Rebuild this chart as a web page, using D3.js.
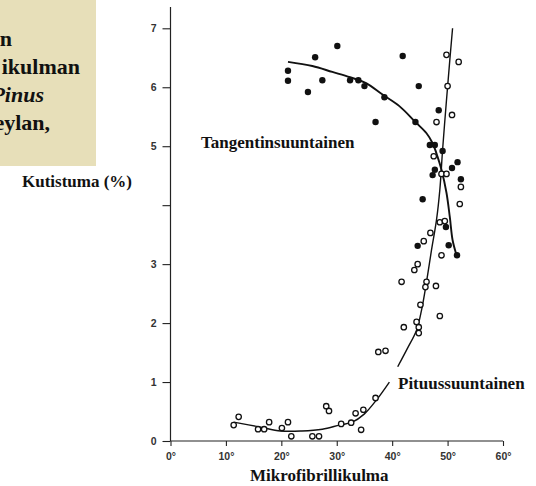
<!DOCTYPE html>
<html>
<head>
<meta charset="utf-8">
<script src="https://cdn.jsdelivr.net/npm/d3@7"></script>
<style>
  body { margin: 0; background: #fff; }
  .lbl { font-family: "Liberation Serif", "Times New Roman", serif; font-weight: bold; fill: #111; }
  .tick text { font-family: "Liberation Sans", Arial, sans-serif; font-size: 10.5px; font-weight: bold; fill: #333; }
</style>
</head>
<body>
<div id="dataviz"></div>
<script>
// tangential (filled dots)
var tangAngle  = [21.2, 21.2, 24.8, 26.1, 27.4, 30.1, 32.4, 33.9, 35.0, 38.6, 37.0, 41.9, 44.8, 44.2,
                  48.4, 46.8, 47.7, 49.1, 51.8, 50.8, 47.7, 47.3, 52.4, 45.5, 49.7, 44.6, 50.2, 51.7];
var tangShrink = [6.28, 6.11, 5.92, 6.51, 6.12, 6.70, 6.12, 6.12, 6.02, 5.83, 5.41, 6.53, 6.02, 5.41,
                  5.61, 5.02, 5.02, 4.92, 4.73, 4.63, 4.60, 4.51, 4.44, 4.10, 3.63, 3.31, 3.32, 3.15];

// longitudinal (open circles)
var longAngle  = [49.8, 52.0, 50.0, 50.8, 48.0, 47.5, 48.9, 49.8, 52.4, 52.2, 48.6, 49.5, 46.9, 45.7,
                  48.9, 44.6, 44.0, 41.7, 46.2, 46.0, 47.9, 45.1, 48.6, 44.4, 44.8, 44.8, 42.1, 37.5,
                  38.8, 37.0, 34.8, 33.4, 28.1, 28.6, 32.6, 30.8, 34.4, 25.6, 26.8, 11.4, 12.3, 15.8,
                  16.9, 17.8, 20.1, 21.2, 21.8];
var longShrink = [6.55, 6.43, 6.02, 5.53, 5.41, 4.83, 4.53, 4.53, 4.31, 4.02, 3.71, 3.73, 3.53, 3.39,
                  3.15, 3.00, 2.90, 2.70, 2.70, 2.61, 2.63, 2.31, 2.12, 2.02, 1.93, 1.83, 1.93, 1.51,
                  1.53, 0.73, 0.53, 0.47, 0.59, 0.51, 0.31, 0.29, 0.19, 0.08, 0.08, 0.27, 0.41, 0.20,
                  0.20, 0.32, 0.22, 0.32, 0.08];

// fitted curves
var tangCurveAngle  = [21.2, 25.6, 29.2, 32.4, 35.3, 38.2, 41.3, 44.2, 46.2, 47.3, 48.2, 48.9, 49.8, 50.4, 50.9, 51.5];
var tangCurveShrink = [6.43, 6.36, 6.26, 6.17, 6.07, 5.88, 5.68, 5.41, 5.22, 5.05, 4.82, 4.60, 4.21, 3.80, 3.41, 3.19];
// null = break in the line next to the label
var longCurveAngle  = [11.4, 16.0, 19.9, 23.7, 27.4, 30.5, 32.8, 35.0, 37.2, 39.5, null,
                       41.0, 42.8, 44.4, 45.3, 46.2, 47.1, 48.0, 48.6, 49.1, 49.8, 50.4, 50.9];
var longCurveShrink = [0.32, 0.24, 0.17, 0.17, 0.20, 0.27, 0.32, 0.46, 0.70, 1.00, null,
                       1.26, 1.58, 1.88, 2.22, 2.70, 3.24, 3.75, 4.26, 4.94, 5.78, 6.46, 7.00];

var xTicks = [0, 10, 20, 30, 40, 50, 60];
var yTicks = [0, 1, 2, 3, 4, 5, 6, 7];
var yTickLabels = ["0", "1", "2", "3", "", "5", "6", "7"];

var width = 536,
    height = 486;

var svg = d3.select("#dataviz")
    .append("svg")
    .attr("width", width)
    .attr("height", height);

var x = d3.scaleLinear().domain([0, 60]).range([170.5, 503]);
var y = d3.scaleLinear().domain([0, 7]).range([441, 28.3]);

// caption box, clipped at the left edge like in the original
svg.append("rect")
    .attr("x", 0).attr("y", 0)
    .attr("width", 96).attr("height", 166)
    .attr("fill", "#e7dfb9");

var capLines = [["n", 12, 46, false], ["ikulman", 80, 74, false], ["Pinus", 44, 102, true], ["eylan,", 50, 130, false]];
svg.selectAll(".cap")
    .data(capLines)
    .enter()
    .append("text")
    .attr("class", "lbl cap")
    .attr("x", function(d) { return d[1]; })
    .attr("y", function(d) { return d[2]; })
    .attr("text-anchor", "end")
    .style("font-size", "22px")
    .style("font-style", function(d) { return d[3] ? "italic" : "normal"; })
    .text(function(d) { return d[0]; });

// axes
var xAxis = d3.axisBottom(x)
    .tickValues(xTicks)
    .tickSize(5)
    .tickSizeOuter(0)
    .tickPadding(7)
    .tickFormat(function(d) { return d + "°"; });

var yAxis = d3.axisLeft(y)
    .tickValues(yTicks)
    .tickSize(8)
    .tickSizeOuter(0)
    .tickPadding(6)
    .tickFormat(function(d, i) { return yTickLabels[i]; });

var gx = svg.append("g")
    .attr("transform", "translate(0," + y(0) + ")")
    .call(xAxis);
var gy = svg.append("g")
    .attr("transform", "translate(" + x(0) + ",0)")
    .call(yAxis);

gx.select(".domain").remove();
gy.select(".domain").remove();
svg.selectAll(".tick line").attr("stroke", "#222").attr("stroke-width", 1.1);

svg.append("line")
    .attr("x1", x(0)).attr("x2", x(0))
    .attr("y1", y(0)).attr("y2", 7)
    .attr("stroke", "#222").attr("stroke-width", 1.2);
svg.append("line")
    .attr("x1", x(0)).attr("x2", x(60))
    .attr("y1", y(0)).attr("y2", y(0))
    .attr("stroke", "#222").attr("stroke-width", 1.2);

// curves
var line = d3.line()
    .defined(function(d) { return d[0] != null; })
    .x(function(d) { return x(d[0]); })
    .y(function(d) { return y(d[1]); })
    .curve(d3.curveCatmullRom.alpha(0.5));

svg.append("path")
    .attr("d", line(d3.zip(tangCurveAngle, tangCurveShrink)))
    .attr("fill", "none")
    .attr("stroke", "#111")
    .attr("stroke-width", 1.9);

svg.append("path")
    .attr("d", line(d3.zip(longCurveAngle, longCurveShrink)))
    .attr("fill", "none")
    .attr("stroke", "#111")
    .attr("stroke-width", 1.4);

// points
svg.selectAll(".tang")
    .data(d3.zip(tangAngle, tangShrink))
    .enter()
    .append("circle")
    .attr("cx", function(d) { return x(d[0]); })
    .attr("cy", function(d) { return y(d[1]); })
    .attr("r", 3.2)
    .attr("fill", "#111");

svg.selectAll(".long")
    .data(d3.zip(longAngle, longShrink))
    .enter()
    .append("circle")
    .attr("cx", function(d) { return x(d[0]); })
    .attr("cy", function(d) { return y(d[1]); })
    .attr("r", 2.7)
    .attr("fill", "#fff")
    .attr("stroke", "#111")
    .attr("stroke-width", 1.3);

// labels
svg.append("text").attr("class", "lbl")
    .attr("x", 201).attr("y", 148)
    .style("font-size", "17px")
    .text("Tangentinsuuntainen");

svg.append("text").attr("class", "lbl")
    .attr("x", 398).attr("y", 389)
    .style("font-size", "17px")
    .text("Pituussuuntainen");

svg.append("text").attr("class", "lbl")
    .attr("x", 132).attr("y", 187)
    .attr("text-anchor", "end")
    .style("font-size", "17px")
    .text("Kutistuma (%)");

svg.append("text").attr("class", "lbl")
    .attr("x", 250).attr("y", 481)
    .style("font-size", "17px")
    .text("Mikrofibrillikulma");
</script>
</body>
</html>
